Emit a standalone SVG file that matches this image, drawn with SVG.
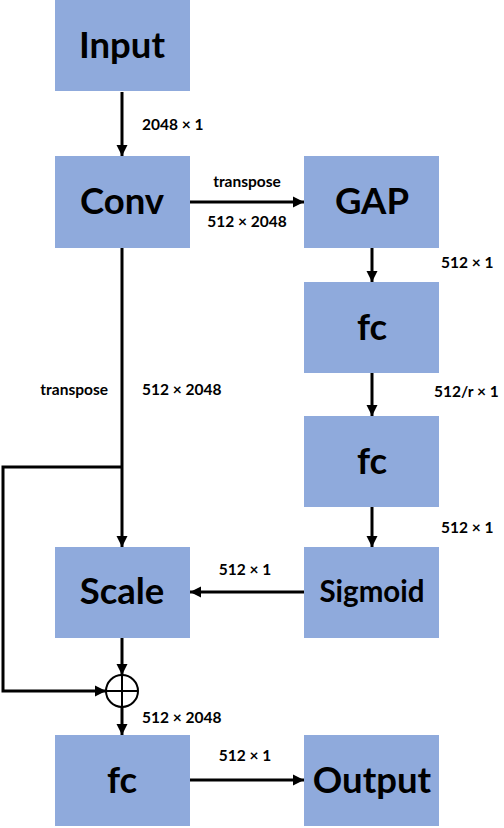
<svg xmlns="http://www.w3.org/2000/svg" width="504" height="828" viewBox="0 0 504 828">
<defs>
<marker id="ah" markerUnits="userSpaceOnUse" markerWidth="12" markerHeight="12" refX="11" refY="6" orient="auto">
<path d="M0,0.5 L11,6 L0,11.5 z" fill="#000"/>
</marker>
<style>
.box{fill:#8FAADC;}
.nt{font-family:Lato,"Liberation Sans",sans-serif;font-weight:bold;font-size:36.5px;fill:#000;text-anchor:middle;}
.lb{font-family:Lato,"Liberation Sans",sans-serif;font-weight:bold;font-size:15.5px;fill:#000;}
.ln{stroke:#000;stroke-width:3;fill:none;}
</style>
</defs>
<rect width="504" height="828" fill="#fff"/>
<g id="input"><rect class="box" x="55" y="0" width="135" height="91"/><text class="nt" x="122" y="58">Input</text></g>
<g id="conv"><rect class="box" x="55" y="156" width="135" height="92"/><text class="nt" x="122" y="214">Conv</text></g>
<g id="gap"><rect class="box" x="304" y="156" width="135" height="92"/><text class="nt" x="372" y="214">GAP</text></g>
<g id="fc1"><rect class="box" x="304" y="282" width="135" height="91"/><text class="nt" x="372" y="340">fc</text></g>
<g id="fc2"><rect class="box" x="304" y="416" width="135" height="91"/><text class="nt" x="372" y="474">fc</text></g>
<g id="sigmoid"><rect class="box" x="304" y="547" width="135" height="91"/><text class="nt" x="372" y="602" style="font-size:29.5px">Sigmoid</text></g>
<g id="scale"><rect class="box" x="55" y="547" width="135" height="91"/><text class="nt" x="122" y="604">Scale</text></g>
<g id="fc3"><rect class="box" x="55" y="735" width="135" height="91"/><text class="nt" x="122" y="793">fc</text></g>
<g id="output"><rect class="box" x="304" y="735" width="135" height="91"/><text class="nt" x="372" y="793">Output</text></g>
<g id="sum"><circle cx="122" cy="691" r="16" fill="#fff" stroke="#000" stroke-width="2"/><line x1="106" y1="691" x2="138" y2="691" stroke="#000" stroke-width="2"/><line x1="122" y1="675" x2="122" y2="707" stroke="#000" stroke-width="2"/></g>
<g id="connectors">
<line class="ln" x1="122" y1="92" x2="122" y2="156" marker-end="url(#ah)"/>
<line class="ln" x1="190" y1="202" x2="304" y2="202" marker-end="url(#ah)"/>
<line class="ln" x1="372" y1="248" x2="372" y2="282" marker-end="url(#ah)"/>
<line class="ln" x1="372" y1="373" x2="372" y2="416" marker-end="url(#ah)"/>
<line class="ln" x1="372" y1="507" x2="372" y2="547" marker-end="url(#ah)"/>
<line class="ln" x1="122" y1="248" x2="122" y2="547" marker-end="url(#ah)"/>
<line class="ln" x1="304" y1="592" x2="190" y2="592" marker-end="url(#ah)"/>
<polyline class="ln" points="122,467 3,467 3,691 106,691" marker-end="url(#ah)"/>
<line class="ln" x1="122" y1="638" x2="122" y2="675" marker-end="url(#ah)"/>
<line class="ln" x1="122" y1="707" x2="122" y2="735" marker-end="url(#ah)"/>
<line class="ln" x1="190" y1="780" x2="304" y2="780" marker-end="url(#ah)"/>
</g>
<g id="labels">
<text class="lb" x="142" y="130">2048 × 1</text>
<text class="lb" x="247" y="187" text-anchor="middle">transpose</text>
<text class="lb" x="247" y="227" text-anchor="middle">512 × 2048</text>
<text class="lb" x="441" y="268">512 × 1</text>
<text class="lb" x="434" y="397">512/r × 1</text>
<text class="lb" x="441" y="533">512 × 1</text>
<text class="lb" x="108" y="395" text-anchor="end">transpose</text>
<text class="lb" x="142" y="395">512 × 2048</text>
<text class="lb" x="245" y="575" text-anchor="middle">512 × 1</text>
<text class="lb" x="142" y="723">512 × 2048</text>
<text class="lb" x="245" y="761" text-anchor="middle">512 × 1</text>
</g>
</svg>
